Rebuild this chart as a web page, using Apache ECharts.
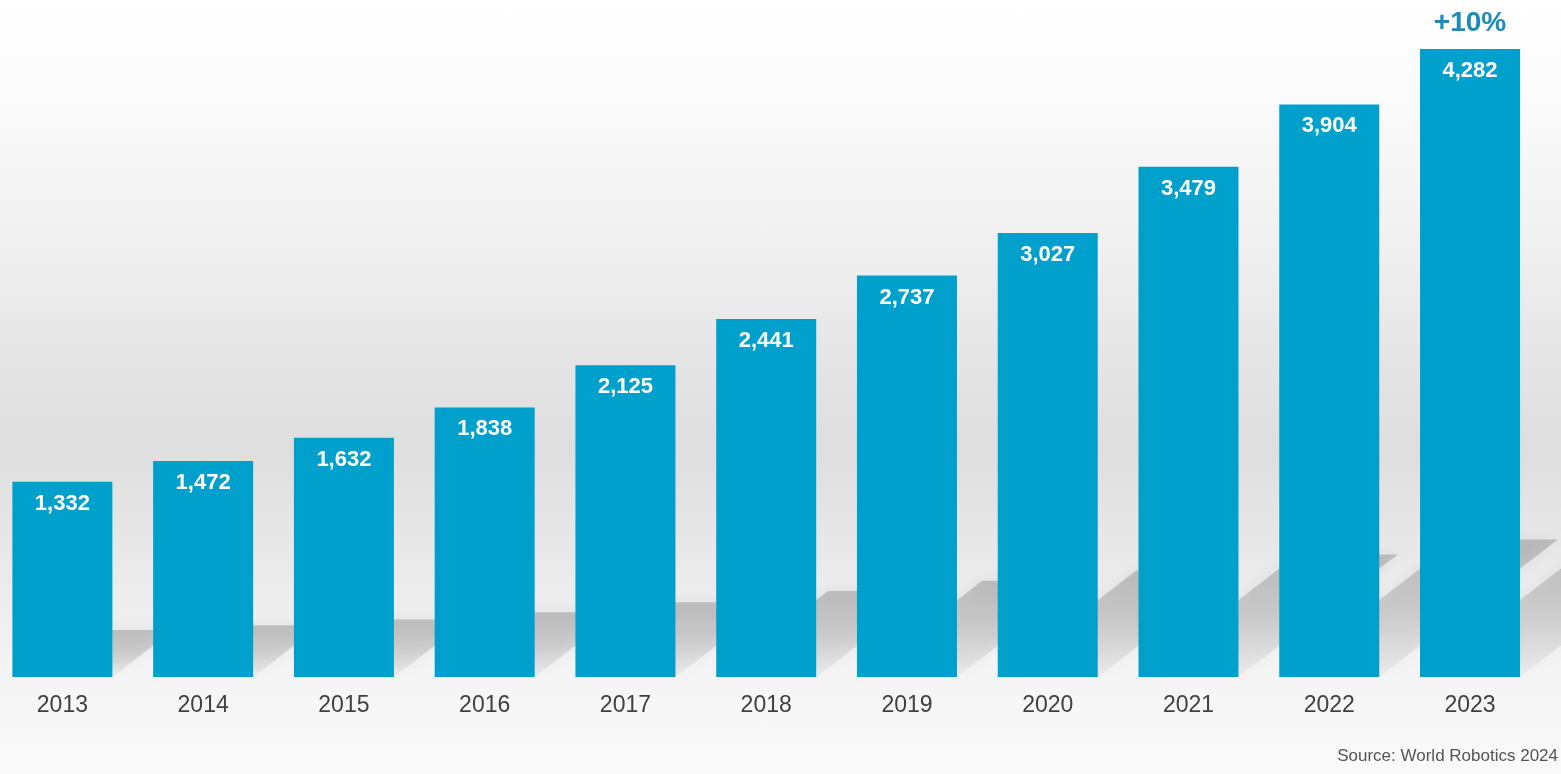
<!DOCTYPE html>
<html>
<head>
<meta charset="utf-8">
<script src="https://cdn.jsdelivr.net/npm/echarts@6/dist/echarts.min.js"></script>
<style>
html,body{margin:0;padding:0;overflow:hidden;width:1561px;height:774px;position:relative;background:#fafafa;}
#chart{position:absolute;left:-8.4px;top:0;width:1569.4px;height:774px;background:linear-gradient(to bottom,#ffffff 0%,#fbfbfb 12%,#f1f1f1 30%,#e4e4e4 48%,#dedede 58%,#e6e6e6 68%,#efefef 80%,#f6f6f6 90%,#fafafa 100%);}
</style>
</head>
<body>
<div id="chart"></div>
<script>
const categories = ['2013','2014','2015','2016','2017','2018','2019','2020','2021','2022','2023'];
const values = [1332,1472,1632,1838,2125,2441,2737,3027,3479,3904,4282];
const growthLabel = '+10%';
const sourceText = 'Source: World Robotics 2024';

const chart = echarts.init(document.getElementById('chart'));
const BAR_W = 100;
const fmt = v => v.toLocaleString('en-US');

chart.setOption({
  animation: false,
  grid: { left: 0, right: 20.6, top: 17, bottom: 97, containLabel: false },
  xAxis: {
    type: 'category',
    data: categories,
    axisLine: { show: false },
    axisTick: { show: false },
    axisLabel: { color: '#404040', fontSize: 23, fontFamily: 'Liberation Sans, Arial, sans-serif', margin: 17 }
  },
  yAxis: {
    type: 'value', min: 0, max: 4500,
    show: false, splitLine: { show: false }
  },
  graphic: [{
    type: 'text', right: 3, top: 748,
    style: { text: sourceText, fill: '#555555', fontSize: 17, fontFamily: 'Liberation Sans, Arial, sans-serif' }
  }],
  series: [
    {
      type: 'custom',
      z: 1,
      silent: true,
      data: values.map((v, i) => [i, v]),
      renderItem: function (params, api) {
        const top = api.coord([api.value(0), api.value(1)]);
        const base = api.coord([api.value(0), 0]);
        const cx = base[0];
        const y0 = base[1];
        const h = (y0 - top[1]) * 0.24;
        const dx = h * 1.3;
        const x0 = cx - BAR_W / 2, x1 = cx + BAR_W / 2;
        return {
          type: 'polygon',
          shape: { points: [[x0, y0], [x1, y0], [x1 + dx, y0 - h], [x0 + dx, y0 - h]] },
          style: {
            fill: new echarts.graphic.LinearGradient(0, 0, 0, 1, [
              { offset: 0, color: 'rgba(120,120,120,0.38)' },
              { offset: 0.5, color: 'rgba(120,120,120,0.26)' },
              { offset: 1, color: 'rgba(120,120,120,0.06)' }
            ]),
            shadowBlur: 14,
            shadowColor: 'rgba(140,140,140,0.35)'
          }
        };
      }
    },
    {
      type: 'bar',
      z: 2,
      data: values,
      barWidth: BAR_W,
      itemStyle: { color: '#00a0cc' },
      label: {
        show: true,
        position: 'insideTop',
        distance: 11,
        color: '#ffffff',
        fontSize: 22,
        fontWeight: 'bold',
        fontFamily: 'Liberation Sans, Arial, sans-serif',
        formatter: p => fmt(p.value)
      },
      markPoint: {
        symbol: 'rect',
        symbolSize: 0,
        data: [{ coord: [categories.length - 1, values[values.length - 1]], value: growthLabel }],
        label: {
          show: true,
          position: 'inside',
          offset: [0, -26],
          formatter: growthLabel,
          color: '#1a8cba',
          fontSize: 28,
          fontWeight: 'bold',
          fontFamily: 'Liberation Sans, Arial, sans-serif'
        }
      }
    }
  ]
});
</script>
</body>
</html>
